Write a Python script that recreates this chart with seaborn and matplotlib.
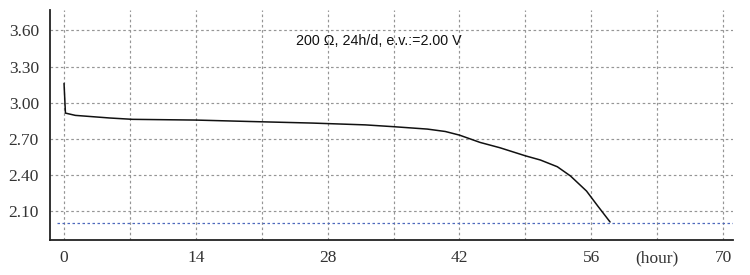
import matplotlib
matplotlib.use("Agg")
import matplotlib.pyplot as plt
import seaborn as sns
import pandas as pd

# Data
hours = [0, 0.15, 1.2, 4.9, 7.3, 14, 19.8, 26.4, 32, 35, 38.6, 40.5, 42, 44.2,
         46.3, 49, 50.6, 52.4, 53.8, 55.5, 56.7, 58.0]
volts = [3.16, 2.913, 2.894, 2.872, 2.861, 2.855, 2.843, 2.83, 2.815, 2.80, 2.78,
         2.76, 2.73, 2.669, 2.625, 2.558, 2.523, 2.467, 2.39, 2.265, 2.14, 2.008]
end_voltage = 2.00
y_ticks = [2.10, 2.40, 2.70, 3.00, 3.30, 3.60]
x_ticks = [0, 7, 14, 21, 28, 35, 42, 49, 56, 63, 70]
x_labels = ["0", "", "14", "", "28", "", "42", "", "56", "(hour)", "70"]
title = "200 \u03a9, 24h/d, e.v.:=2.00 V"

sns.set_style("white")
plt.rcParams["font.family"] = ["Liberation Serif", "DejaVu Serif"]

fig = plt.figure(figsize=(7.5, 2.75), dpi=100)
ax = fig.add_axes([50 / 750, 1 - 240 / 275, (733 - 50) / 750, (240 - 10) / 275])

df = pd.DataFrame({"hour": hours, "voltage": volts})
sns.lineplot(data=df, x="hour", y="voltage", ax=ax, color="#111111",
             linewidth=1.1, sort=False, zorder=3)

ax.axhline(end_voltage, xmin=(57 - 50) / 683, xmax=1, color="#4d68bd",
           linestyle=(0, (2, 2)), linewidth=0.9, zorder=2)

ax.set_xlim(-1.49, 71.06)
ax.set_ylim(1.858, 3.77)
ax.set_xticks(x_ticks)
ax.set_xticklabels(x_labels)
ax.set_yticks(y_ticks)
ax.set_yticklabels([f"{v:.2f}" for v in y_ticks])
ax.set_xlabel("")
ax.set_ylabel("")

ax.grid(True, color="#959595", linestyle=(0, (2.2, 2.2)), linewidth=0.85)
ax.set_axisbelow(True)

for s in ["top", "right"]:
    ax.spines[s].set_visible(False)
for s in ["left", "bottom"]:
    ax.spines[s].set_color("#222222")
    ax.spines[s].set_linewidth(1.3)

ax.tick_params(axis="x", direction="inout", length=7, width=1, color="#222222",
               labelsize=12.5, pad=4, labelcolor="#333333")
ax.tick_params(axis="y", direction="out", length=4, width=1, color="#222222",
               labelsize=12.5, pad=4, labelcolor="#333333")

ax.text(33.4, 3.515, title, ha="center", va="center", fontsize=10.3,
        family=["Liberation Sans", "DejaVu Sans"], color="#111111")

fig.savefig("out.png", dpi=100)
